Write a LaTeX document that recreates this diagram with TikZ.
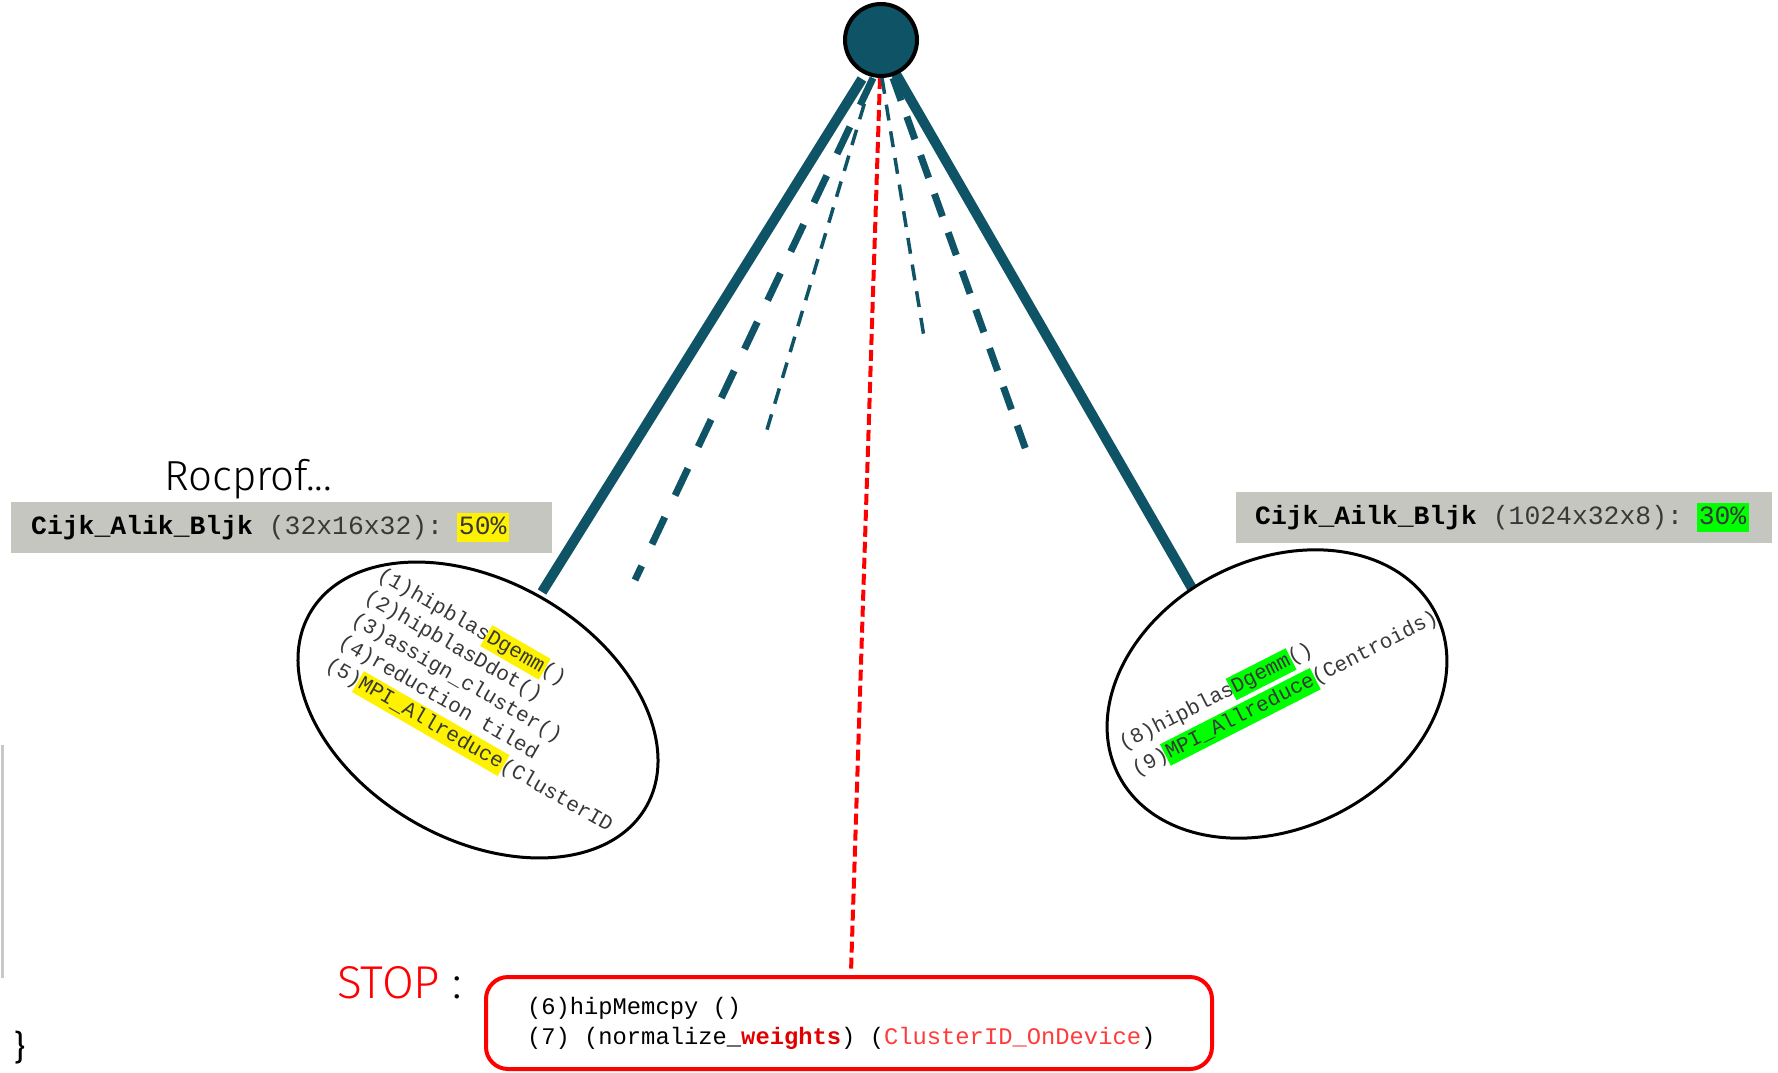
\documentclass[tikz,border=0pt]{standalone}
\usepackage{fontspec}
\setmonofont{Liberation Mono}
\newfontfamily\thinsans{Fira Sans Light}
\newfontfamily\normsans{Fira Sans}
\usetikzlibrary{shapes.geometric}

\definecolor{hubteal}{HTML}{0F5366}
\definecolor{boxgray}{HTML}{C6C6C1}
\definecolor{sidegray}{HTML}{C8C8C8}
\definecolor{textgray}{HTML}{383838}
\definecolor{softred}{HTML}{FF3B3B}
\definecolor{deepred}{HTML}{E00000}

% highlighted word: coloured box that does not shift the monospaced text
\newcommand\hl[2]{{\setlength{\fboxsep}{2.2pt}\kern-\fboxsep\colorbox{#1}{\vphantom{(}#2}\kern-\fboxsep}}
% one full monospaced cell of blank space
\newcommand\msp{\hspace{0.6em}}

\begin{document}
\begin{tikzpicture}[x=1pt,y=-1pt,
  solidarm/.style={draw=hubteal, line width=10pt},
  thickdash/.style={draw=hubteal, line width=7pt},
  thindash/.style={draw=hubteal, line width=3.5pt, dash pattern=on 16pt off 11pt},
  reddash/.style={draw=red, line width=4pt, dash pattern=on 11pt off 5pt},
  kernelbox/.style={fill=boxgray, anchor=north west, minimum height=51pt,
    inner ysep=0pt, align=left, text=textgray,
    font=\fontsize{26.4}{30}\selectfont\ttfamily},
  group/.style={draw=black, line width=3pt, fill=white, ellipse, inner sep=0pt},
  armtext/.style={inner sep=0pt, align=left, text=textgray, anchor=north west},
  stopframe/.style={draw=red, line width=4pt, rounded corners=22pt,
    minimum height=92pt, text width=644pt, inner xsep=41pt, align=left,
    text=black, font=\fontsize{23.8}{30}\selectfont\ttfamily}
]
\useasboundingbox (0,0) rectangle (1778,1073);

% kernel summary bars
\node[kernelbox, text width=501pt, inner xsep=20pt] (boxL) at (11,502)
  {\textbf{\color{black}Cijk\_Alik\_Bljk}\msp(32x16x32):\msp\hl{yellow}{50\%}};
\node[kernelbox, text width=498pt, inner xsep=19pt] (boxR) at (1236,492)
  {\textbf{\color{black}Cijk\_Ailk\_Bljk}\msp(1024x32x8):\msp\hl{green}{30\%}};

\node[anchor=base west, inner sep=0pt, font=\thinsans\fontsize{42}{46}\selectfont] (roc) at (164,490) {Rocprof...};

% arm end points
\coordinate (s1) at (862,79);  \coordinate (e1) at (542,592);
\coordinate (s2) at (873,78);  \coordinate (e2) at (635,580);
\coordinate (s3) at (872,78);  \coordinate (e3) at (766,433);
\coordinate (s4) at (880,78);  \coordinate (e4) at (851,972);
\coordinate (s5) at (882,78);  \coordinate (e5) at (924,337);
\coordinate (s6) at (893,78);  \coordinate (e6) at (1027,453);
\coordinate (s7) at (896,74);  \coordinate (e7) at (1193,590);

\draw[solidarm] (s1) -- (e1);
\draw[thickdash, dash pattern=on 30pt off 24pt] (s2) -- (e2);
\draw[thindash] (s3) -- (e3);
\draw[reddash] (s4) -- (e4);
\draw[thindash] (s5) -- (e5);
\draw[thickdash, dash pattern=on 24pt off 17pt] (s6) -- (e6);
\draw[solidarm] (s7) -- (e7);

% hub
\node[circle, draw=black, line width=4pt, fill=hubteal, minimum size=72pt, inner sep=0pt] (hub) at (881,40) {};

% call groups
\node[group, minimum width=388pt, minimum height=258pt, rotate=-30] (ellL) at (478,710) {};
\node[group, minimum width=356pt, minimum height=268pt, rotate=27] (ellR) at (1277,694) {};

\node[armtext, rotate=-30, font=\fontsize{21}{26}\selectfont\ttfamily] (txtL) at (385,563)
  {(1)hipblas\hl{yellow}{Dgemm}()\\
   (2)hipblasDdot()\\
   (3)assign\_cluster()\\
   (4)reduction\msp tiled\\
   (5)\hl{yellow}{MPI\_Allreduce}(ClusterID};
\node[armtext, rotate=27, font=\fontsize{21}{28.5}\selectfont\ttfamily] (txtR) at (1115,735)
  {(8)hipblas\hl{green}{Dgemm}()\\
   (9)\hl{green}{MPI\_Allreduce}(Centroids)};

% stop frame
\node[stopframe] (stop) at (849,1023)
  {(6)hipMemcpy\msp()\\
   (7)\msp(normalize\_\textcolor{deepred}{\textbf{weights}})\msp(\textcolor{softred}{ClusterID\_OnDevice})};
\node[anchor=base west, inner sep=0pt, font=\thinsans\fontsize{46}{50}\selectfont] (stopword) at (337,998)
  {\textcolor{red}{STOP} :};

% left margin remnants
\coordinate (g1) at (2,745); \coordinate (g2) at (2,978);
\draw[sidegray, line width=3pt] (g1) -- (g2);
\node[anchor=base west, inner sep=0pt, font=\normsans\fontsize{34}{40}\selectfont] (brace) at (14,1059) {\}};
\end{tikzpicture}
\end{document}
